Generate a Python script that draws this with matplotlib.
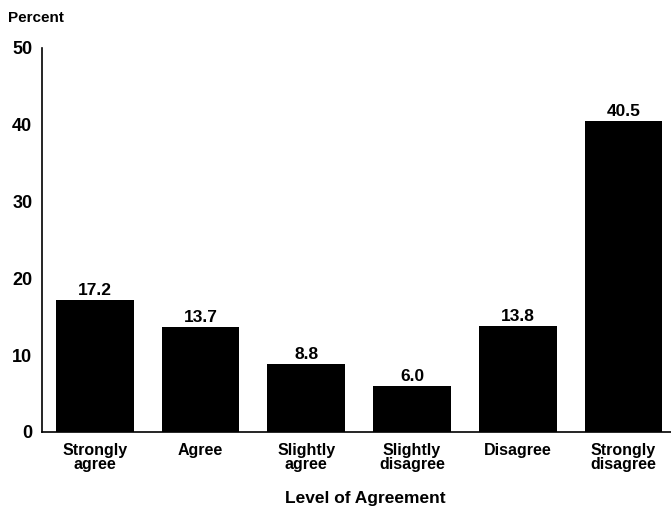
import matplotlib.pyplot as plt

plt.rcParams["font.family"] = ["Liberation Sans", "DejaVu Sans"]
plt.rcParams["font.weight"] = "bold"

# data
categories = ["Strongly\nagree", "Agree", "Slightly\nagree", "Slightly\ndisagree", "Disagree", "Strongly\ndisagree"]
values = [17.2, 13.7, 8.8, 6.0, 13.8, 40.5]
yticks = [0, 10, 20, 30, 40, 50]

fig = plt.figure(figsize=(6.71, 5.13), dpi=100)
ax = fig.add_axes([42 / 671, 81 / 513, 629 / 671, 384 / 513])

x = range(len(categories))
bars = ax.bar(x, values, width=0.735, color="black")
for xi, v in zip(x, values):
    ax.text(xi, v + 0.25, f"{v:.1f}", ha="center", va="bottom", fontsize=12.5, fontweight="bold")

ax.set_xlim(-0.5, 5.45)
ax.set_ylim(0, 50)
ax.set_yticks(yticks)
ax.set_xticks(list(x))
ax.set_xticklabels(categories, fontsize=11.5, fontweight="bold", linespacing=0.9)
ax.tick_params(axis="both", length=0)
ax.tick_params(axis="y", labelsize=13, pad=7)
ax.tick_params(axis="x", pad=8)
for s in ["top", "right"]:
    ax.spines[s].set_visible(False)
for s in ["left", "bottom"]:
    ax.spines[s].set_linewidth(1.2)

fig.text(8 / 671, 1 - 18 / 513, "Percent", ha="left", va="center", fontsize=11, fontweight="bold")
fig.text(365 / 671, 1 - 499 / 513, "Level of Agreement", ha="center", va="center", fontsize=12.5, fontweight="bold")

fig.savefig("out.png", dpi=100)
